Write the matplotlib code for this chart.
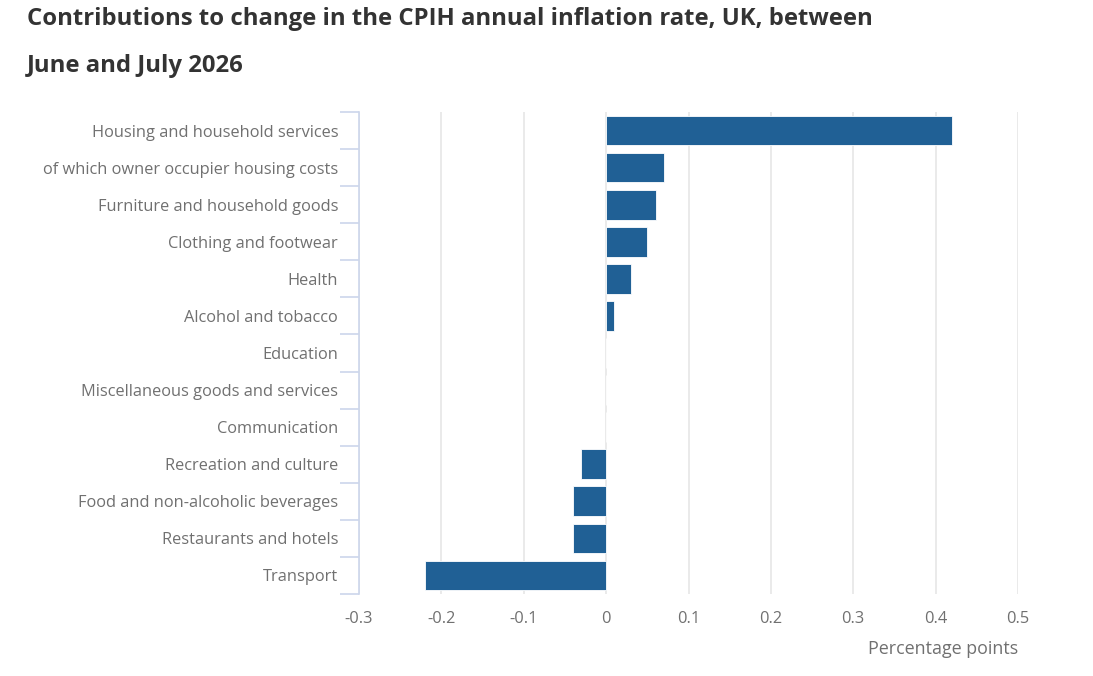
import matplotlib
matplotlib.use("Agg")
import matplotlib.pyplot as plt
from matplotlib.ticker import FixedLocator

categories = [
    "Housing and household services",
    "of which owner occupier housing costs",
    "Furniture and household goods",
    "Clothing and footwear",
    "Health",
    "Alcohol and tobacco",
    "Education",
    "Miscellaneous goods and services",
    "Communication",
    "Recreation and culture",
    "Food and non-alcoholic beverages",
    "Restaurants and hotels",
    "Transport",
]
values = [0.42, 0.07, 0.06, 0.05, 0.03, 0.01, 0.0, 0.0, 0.0, -0.03, -0.04, -0.04, -0.22]
x_ticks = [-0.3, -0.2, -0.1, 0, 0.1, 0.2, 0.3, 0.4, 0.5]
x_tick_labels = ["-0.3", "-0.2", "-0.1", "0", "0.1", "0.2", "0.3", "0.4", "0.5"]
title_lines = ["Contributions to change in the CPIH annual inflation rate, UK, between",
               "June and July 2026"]
x_title = "Percentage points"

plt.rcParams['font.family'] = ['Open Sans', 'DejaVu Sans']

fig = plt.figure(figsize=(10.93, 6.76), dpi=100)
ax = fig.add_axes([359/1093, 1-594/676, (1018-359)/1093, (594-112)/676])

n = len(categories)
ypos = list(range(n))
ax.barh(ypos, values, height=0.8, color="#206095", edgecolor="white", linewidth=0.6, zorder=3)
ax.set_ylim(n - 0.5, -0.5)
ax.set_xlim(-0.3, 0.5)

ax.set_yticks(ypos)
ax.set_yticklabels(categories, fontsize=11.8, color="#707070")
ax.yaxis.set_minor_locator(FixedLocator([i - 0.5 for i in range(n + 1)]))
ax.tick_params(axis='y', which='major', length=0, pad=15)
ax.tick_params(axis='y', which='minor', length=14, width=1.2, color="#ccd6eb")

ax.set_xticks(x_ticks)
ax.set_xticklabels(x_tick_labels, fontsize=11.8, color="#707070")
ax.tick_params(axis='x', length=0, pad=12)
ax.grid(axis='x', color="#e6e6e6", linewidth=1.2, zorder=0)

for s in ['top', 'right', 'bottom']:
    ax.spines[s].set_visible(False)
ax.spines['left'].set_color("#ccd6eb")
ax.spines['left'].set_linewidth(1.2)

fig.text(1018/1093, 1-649/676, x_title, ha='right', va='center', fontsize=12.9, color="#707070")
fig.text(27/1093, 1-25/676, title_lines[0], ha='left', va='baseline', fontsize=17.2,
         fontweight='bold', color="#333333")
fig.text(27/1093, 1-72/676, title_lines[1], ha='left', va='baseline', fontsize=17.2,
         fontweight='bold', color="#333333")

fig.savefig("out.png", dpi=100)
